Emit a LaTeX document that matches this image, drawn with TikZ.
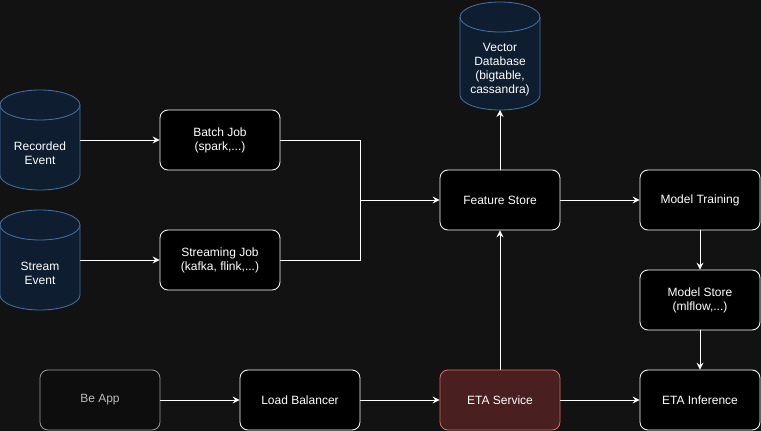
\documentclass[tikz,border=0pt]{standalone}
\usepackage{fontspec}
\setmainfont{Liberation Sans}
\usetikzlibrary{arrows.meta}
\definecolor{bg}{HTML}{121212}
\definecolor{cylfill}{HTML}{0E1D30}
\definecolor{cylline}{HTML}{4472A8}
\definecolor{etafill}{HTML}{4A1F1F}
\definecolor{etaline}{HTML}{E06868}
\definecolor{appline}{HTML}{9A9A9A}
\definecolor{apptext}{HTML}{BBBBBB}
% \mycyl{center x}{top y}{bottom y}
\newcommand\mycyl[3]{%
  \filldraw[cylstyle] (#1-40,#2+15) -- (#1-40,#3-15)
    arc[start angle=180, end angle=0, x radius=40, y radius=15]
    -- (#1+40,#2+15)
    arc[start angle=0, end angle=-180, x radius=40, y radius=15] -- cycle;
  \draw[cylstyle, fill=none] (#1-40,#2+15)
    arc[start angle=180, end angle=0, x radius=40, y radius=15];
}
\begin{document}
\begin{tikzpicture}[x=1pt,y=-1pt,
  every node/.style={font=\fontsize{12}{14}\selectfont, align=center, text=white},
  box/.style={draw=white, fill=black, rounded corners=8pt, minimum width=120pt, minimum height=60pt, inner sep=0pt, line width=0.8pt},
  anchorbox/.style={minimum width=80pt, inner sep=0pt, outer sep=0pt},
  cylstyle/.style={draw=cylline, fill=cylfill, line width=0.8pt},
  conn/.style={draw=white, line width=0.9pt, -{Stealth[length=7pt,width=7pt,inset=2.5pt]}},
  line/.style={draw=white, line width=0.9pt}
]
\fill[bg] (0,0) rectangle (761,431);
\useasboundingbox (0,0) rectangle (761,431);

\mycyl{40}{90}{190}
\node[anchorbox, minimum height=100pt] (rec) at (40,140) {};
\node at (40,153) {Recorded\\Event};
\mycyl{40}{210}{310}
\node[anchorbox, minimum height=100pt] (str) at (40,260) {};
\node at (40,273) {Stream\\Event};
\mycyl{500}{2}{110}
\node[anchorbox, minimum height=108pt] (vdb) at (500,56) {};
\node at (500,70) {Vector\\Database\\(bigtable,\\cassandra)};

\node[box] (batch) at (220,140) {Batch Job\\(spark,...)};
\node[box] (stream) at (220,260) {Streaming Job\\(kafka, flink,...)};
\node[box] (fs) at (500,200) {Feature Store};
\node[box] (mt) at (700,200) {Model Training};
\node[box] (ms) at (700,300) {Model Store\\(mlflow,...)};
\node[box, draw=appline, fill=black!95!white, text=apptext] (app) at (100,400) {Be App};
\node[box] (lb) at (300,400) {Load Balancer};
\node[box, draw=etaline, fill=etafill] (eta) at (500,400) {ETA Service};
\node[box] (inf) at (700,400) {ETA Inference};

\coordinate (j) at (360,200);

\draw[conn] (rec.east) -- (batch.west);
\draw[conn] (str.east) -- (stream.west);
\draw[line] (batch.east) -| (j);
\draw[line] (stream.east) -| (j);
\draw[conn] (j) -- (fs.west);
\draw[conn] (fs.north) -- (vdb.south);
\draw[conn] (fs.east) -- (mt.west);
\draw[conn] (mt.south) -- (ms.north);
\draw[conn] (ms.south) -- (inf.north);
\draw[conn] (app.east) -- (lb.west);
\draw[conn] (lb.east) -- (eta.west);
\draw[conn] (eta.east) -- (inf.west);
\draw[conn] (eta.north) -- (fs.south);
\end{tikzpicture}
\end{document}
